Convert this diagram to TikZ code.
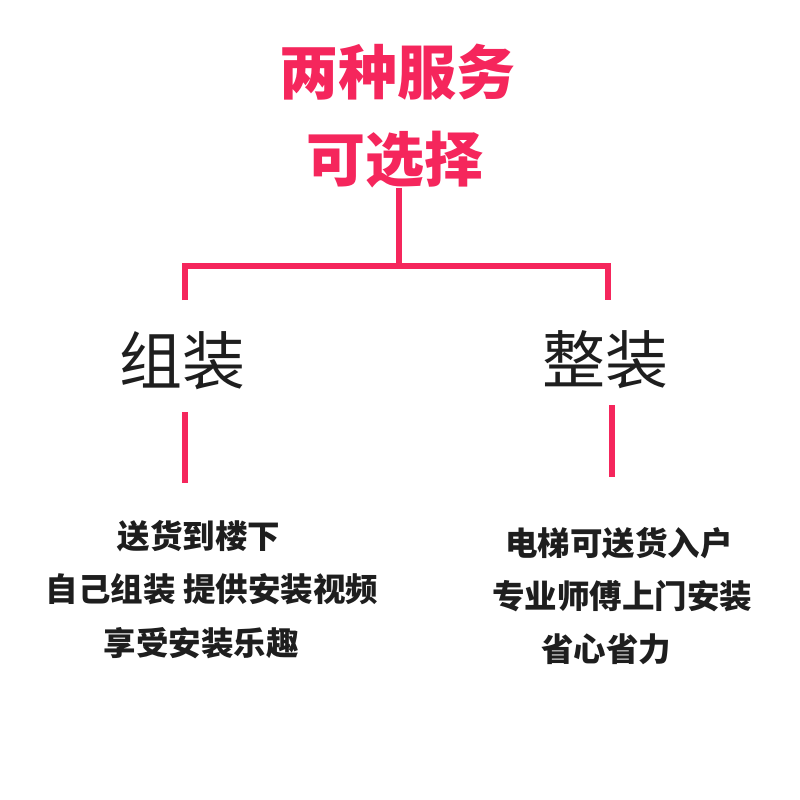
\documentclass[tikz,border=0pt]{standalone}
\usepackage{fontspec}
\newfontfamily\cjk{Noto Sans CJK SC}
\definecolor{pinkred}{RGB}{245,38,92}
\definecolor{ink}{RGB}{30,30,30}
\begin{document}
\begin{tikzpicture}[x=1pt,y=-1pt,
  title/.style={font=\cjk\bfseries\fontsize{59}{59}\selectfont, text=pinkred, anchor=base, inner sep=0pt},
  cat/.style={font=\cjk\fontsize{63}{63}\selectfont, text=ink, anchor=base, inner sep=0pt},
  item/.style={font=\cjk\bfseries\fontsize{32.5}{32.5}\selectfont, text=ink, anchor=base, inner sep=0pt},
  link/.style={draw=pinkred, line width=5.5pt}]
\useasboundingbox[fill=white] (0,0) rectangle (800,800);
\node[title] (t1) at (397,94) {两种服务};
\node[title] (t2) at (395,181) {可选择};
\node[cat] (c1) at (182,384) {组装};
\node[cat] (c2) at (605,383) {整装};
\node[item] (l1) at (199,548) {送货到楼下};
\node[item] (l2) at (212,601) {自己组装 提供安装视频};
\node[item] (l3) at (201,655) {享受安装乐趣};
\node[item] (r1) at (619,555) {电梯可送货入户};
\node[item] (r2) at (622,608) {专业师傅上门安装};
\node[item] (r3) at (606,661) {省心省力};
\coordinate (a0) at (399,188);
\coordinate (a1) at (399,266);
\coordinate (b0) at (185,300);
\coordinate (b1) at (185,266);
\coordinate (b2) at (608,266);
\coordinate (b3) at (608,300);
\coordinate (d0) at (185,412);
\coordinate (d1) at (185,483);
\coordinate (e0) at (612,405);
\coordinate (e1) at (612,477);
\draw[link] (a0) -- (a1);
\draw[link] (b0) -- (b1) -- (b2) -- (b3);
\draw[link] (d0) -- (d1);
\draw[link] (e0) -- (e1);
\end{tikzpicture}
\end{document}
